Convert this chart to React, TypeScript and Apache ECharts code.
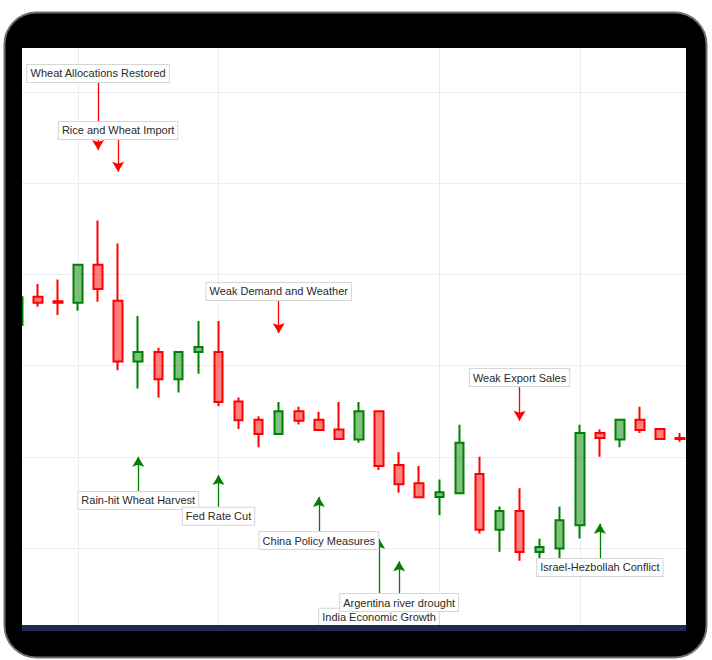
import React, { useEffect, useRef } from "react";
import * as echarts from "echarts";

// Trading days (category axis); the last one is an empty slot at the right edge
const dates = [
  "2024-09-04", "2024-09-05", "2024-09-06", "2024-09-09", "2024-09-10", "2024-09-11",
  "2024-09-12", "2024-09-13", "2024-09-16", "2024-09-17", "2024-09-18", "2024-09-19",
  "2024-09-20", "2024-09-23", "2024-09-24", "2024-09-25", "2024-09-26", "2024-09-27",
  "2024-09-30", "2024-10-01", "2024-10-02", "2024-10-03", "2024-10-04", "2024-10-07",
  "2024-10-08", "2024-10-09", "2024-10-10", "2024-10-11", "2024-10-14", "2024-10-15",
  "2024-10-16", "2024-10-17", "2024-10-18", "2024-10-21", "2024-10-22",
];

const opens = [
  568.9, 575.1, 574.1, 573.8, 582.1, 574.2, 560.9, 563.0, 557.0, 563.0, 563.0, 552.1,
  548.1, 545.0, 550.0, 548.1, 546.0, 543.8, 550.0, 538.2, 534.2, 531.2, 532.0, 536.2,
  524.0, 528.1, 519.1, 519.9, 525.0, 545.2, 543.8, 548.1, 546.1, 544.1,
];
const closes = [
  575.0, 573.8, 573.8, 582.1, 576.8, 560.9, 563.0, 557.0, 563.0, 564.1, 552.0, 548.0,
  545.0, 550.0, 547.9, 545.9, 543.9, 550.0, 538.0, 534.0, 531.1, 532.2, 543.1, 524.0,
  528.1, 519.1, 520.2, 526.1, 545.2, 544.1, 548.1, 545.9, 543.9, 543.9,
];
const lows = [
  568.5, 572.9, 571.1, 572.0, 574.0, 559.0, 555.0, 553.0, 554.1, 558.2, 551.1, 546.1,
  542.1, 545.0, 547.1, 545.9, 543.9, 543.1, 537.1, 532.1, 531.0, 527.2, 532.0, 523.2,
  519.2, 517.2, 517.7, 517.6, 522.1, 540.0, 542.1, 545.2, 543.9, 543.3,
];
const highs = [
  575.7, 577.9, 578.9, 582.2, 591.8, 586.8, 570.9, 563.9, 563.1, 569.8, 569.8, 553.0,
  548.9, 552.0, 551.0, 549.9, 552.0, 552.0, 550.0, 541.0, 538.0, 535.0, 547.0, 540.0,
  529.1, 533.1, 522.0, 529.1, 547.0, 546.0, 548.1, 551.0, 546.1, 545.2,
];

// Dates that carry a vertical grid line
const gridDateIdx = [3, 10, 21, 28];

// Event annotations: arrow tip and text anchor, in price units
const annTexts = [
  "Wheat Allocations Restored",
  "Rice and Wheat Import",
  "Weak Demand and Weather",
  "Weak Export Sales",
  "India Economic Growth",
  "Argentina river drought",
  "Rain-hit Wheat Harvest",
  "Fed Rate Cut",
  "China Policy Measures",
  "Israel-Hezbollah Conflict",
];
const annIndex = [4, 5, 13, 25, 18, 19, 6, 10, 15, 29];
const annTip = [607.3, 602.5, 567.1, 547.9, 522.0, 517.1, 540.0, 536.0, 531.2, 525.3];
const annBase = [622.2, 609.7, 574.4, 555.5, 506.7, 509.9, 532.3, 528.8, 523.5, 517.6];

const FONT = 'Arial, "Liberation Sans", sans-serif';
const ARROW = "path://M6,0 L12,10 L6,8 L0,10 Z";

export default function App() {
  const ref = useRef<HTMLDivElement>(null);

  useEffect(() => {
    if (!ref.current) return;
    const chart = echarts.init(ref.current, undefined, { renderer: "svg" });

    const candles = opens.map((o, i) => [o, closes[i], lows[i], highs[i]]);

    const markData = annTexts.map((t, i) => {
      const up = annTip[i] > annBase[i];
      const color = up ? "#008000" : "#ff0000";
      return [
        {
          name: t,
          coord: [dates[annIndex[i]], annBase[i]],
          symbol: "none",
          lineStyle: { color, width: 1.3, type: "solid" },
          itemStyle: { color },
        },
        {
          coord: [dates[annIndex[i]], annTip[i]],
          symbol: ARROW,
          symbolSize: [12, 10],
          symbolOffset: [0, 5],
          itemStyle: { color },
        },
      ];
    });

    chart.setOption({
      animation: false,
      backgroundColor: "#ffffff",
      grid: { left: 17.8, right: 11.8, top: 48, bottom: 35 },
      xAxis: {
        type: "category",
        data: dates,
        boundaryGap: false,
        axisLine: { show: false },
        axisTick: { show: false },
        axisLabel: { show: false },
        splitLine: {
          show: true,
          interval: (i: number) => gridDateIdx.includes(i),
          lineStyle: { color: "#e9eef5", width: 1 },
        },
      },
      yAxis: {
        type: "value",
        min: 503.11,
        max: 629.65,
        splitNumber: 6,
        minInterval: 20,
        maxInterval: 20,
        axisLine: { show: false },
        axisTick: { show: false },
        axisLabel: { show: false },
        splitLine: {
          show: true,
          showMinLine: false,
          showMaxLine: false,
          lineStyle: { color: "#e9eef5", width: 1 },
        },
      },
      series: [
        {
          type: "candlestick",
          data: candles,
          clip: false,
          barWidth: 9,
          itemStyle: {
            color: "rgba(0,128,0,0.5)",
            color0: "rgba(255,0,0,0.5)",
            borderColor: "#008000",
            borderColor0: "#ff0000",
            borderWidth: 2,
          },
          emphasis: { disabled: true },
          markLine: {
            silent: true,
            animation: false,
            symbol: ["none", ARROW],
            label: {
              show: true,
              position: "start",
              distance: 0,
              formatter: (p: any) => p.name,
              fontSize: 11,
              fontFamily: FONT,
              color: "#2a2a2a",
              backgroundColor: "#ffffff",
              borderColor: "#d6d6d6",
              borderWidth: 1,
              padding: [2, 3, 2, 3],
              lineHeight: 13,
            },
            emphasis: { disabled: true },
            data: markData,
          },
        },
      ],
      graphic: {
        elements: [
          {
            type: "rect",
            z: -2,
            silent: true,
            shape: { x: 4.5, y: 12.5, width: 702, height: 645, r: 32 },
            style: { fill: "#000000", stroke: "#6f6f6f", lineWidth: 2 },
          },
          {
            type: "rect",
            z: -1,
            silent: true,
            shape: { x: 22, y: 48, width: 664, height: 577 },
            style: { fill: "#ffffff" },
          },
          {
            type: "rect",
            z: 100,
            silent: true,
            shape: { x: 8, y: 48, width: 14, height: 583 },
            style: { fill: "#000000" },
          },
          {
            type: "rect",
            z: 100,
            silent: true,
            shape: { x: 686, y: 48, width: 16, height: 583 },
            style: { fill: "#000000" },
          },
          {
            type: "rect",
            z: 100,
            silent: true,
            shape: { x: 22, y: 625, width: 664, height: 6 },
            style: { fill: "#1f2b4e" },
          },
        ],
      },
    });

    return () => chart.dispose();
  }, []);

  return (
    <div
      ref={ref}
      style={{ position: "absolute", left: 0, top: 0, width: 712, height: 660 }}
    />
  );
}
